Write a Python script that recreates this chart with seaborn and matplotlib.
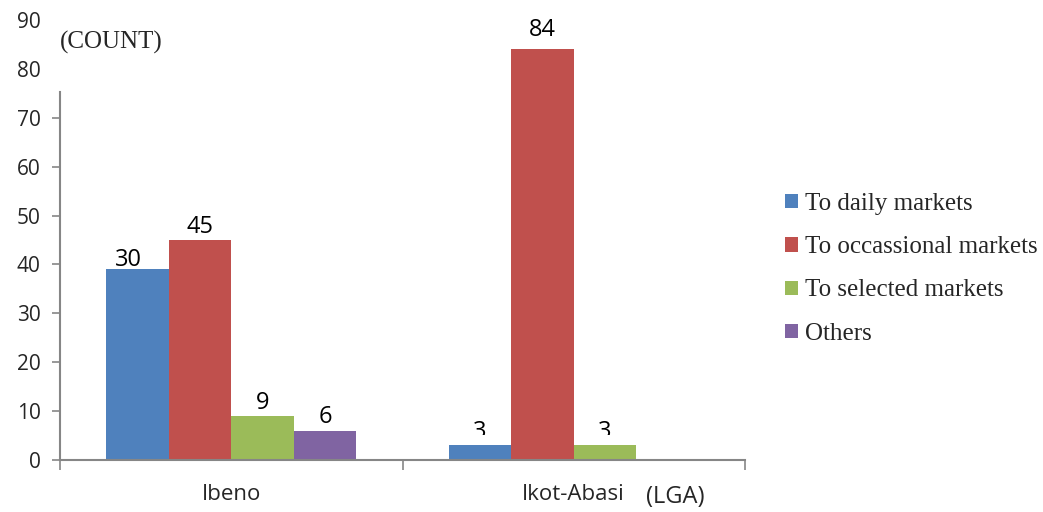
import matplotlib
matplotlib.use("Agg")
import matplotlib.pyplot as plt
import seaborn as sns
import pandas as pd
from matplotlib.patches import Patch, Rectangle

# ---- data ----
lgas = ["Ibeno", "Ikot-Abasi"]
series = ["To daily markets", "To occassional markets", "To selected markets", "Others"]
daily = [39, 3]
occasional = [45, 84]
selected = [9, 3]
others = [6, 0]
label_daily = ["30", "3"]
label_occasional = ["45", "84"]
label_selected = ["9", "3"]
label_others = ["6", ""]
yticks_marked = [0, 10, 20, 30, 40, 50, 60, 70]
yticks_unmarked = [80, 90]
colors = ["#4F81BD", "#C0504D", "#9BBB59", "#8064A2"]

values = [daily, occasional, selected, others]
labels = [label_daily, label_occasional, label_selected, label_others]

rows = []
for s, vals in zip(series, values):
    for lga, v in zip(lgas, vals):
        rows.append({"LGA": lga, "Series": s, "Count": v})
df = pd.DataFrame(rows)

sns.set_theme(style="white")
fig = plt.figure(figsize=(10.43, 5.12), dpi=100)
ax = fig.add_axes([60 / 1043, 1 - 460 / 512, (745 - 60) / 1043, 440 / 512])

sns.barplot(data=df, x="LGA", y="Count", hue="Series", order=lgas, hue_order=series,
            palette=colors, width=0.73, gap=0, dodge=True, saturation=1,
            edgecolor="none", linewidth=0, ax=ax, legend=False)

ax.set_ylim(0, 90)
ax.set_xlim(-0.5, 1.5)
ax.set_yticks(yticks_marked)
ax.set_yticklabels([str(t) for t in yticks_marked], family="Open Sans", fontsize=15)
ax.set_yticks(yticks_unmarked, minor=True)
ax.set_yticklabels([str(t) for t in yticks_unmarked], minor=True, family="Open Sans", fontsize=15)
ax.tick_params(axis="y", which="major", left=True, length=6, width=1.2, color="#868686", pad=8)
ax.tick_params(axis="y", which="minor", left=True, length=0, pad=14)

ax.set_xticks([0, 1])
ax.set_xticklabels(lgas, family="Open Sans", fontsize=16)
ax.set_xticks([-0.5, 0.5, 1.5], minor=True)
ax.tick_params(axis="x", which="major", length=0, pad=17)
ax.tick_params(axis="x", which="minor", bottom=True, length=7, width=1.2, color="#868686")
ax.set_xlabel("")
ax.set_ylabel("")

for side in ["top", "right"]:
    ax.spines[side].set_visible(False)
for side in ["left", "bottom"]:
    ax.spines[side].set_color("#868686")
    ax.spines[side].set_linewidth(1.5)
ax.spines["left"].set_bounds(0, 75.3)

# data labels
for cont, labs in zip(ax.containers, labels):
    for bar, lab in zip(cont, labs):
        if not lab:
            continue
        cx = bar.get_x() + bar.get_width() / 2
        top = bar.get_height()
        t = ax.text(cx, top + 0.3, lab, ha="center", va="bottom",
                    family="Open Sans", fontsize=17, color="black")
        if lab == "3":
            clip = Rectangle((cx - 1, 5.1), 2, 10, transform=ax.transData)
            t.set_clip_on(True)
            t.set_clip_path(clip)
        if top == 84:
            t.set_y(top + 1.5)
        if lab == "30":
            t.set_x(cx - 0.025)
            t.set_y(top - 0.6)

ax.text(60 / 1043, 1 - 42 / 512, "(COUNT)", transform=fig.transFigure,
        family="Liberation Serif", fontsize=18, ha="left", va="center")
ax.text(675 / 1043, 1 - 497 / 512, "(LGA)", transform=fig.transFigure,
        family="Open Sans", fontsize=17, ha="center", va="center")

handles = [Patch(facecolor=c, edgecolor="none") for c in colors]
fig.legend(handles, series, loc="upper left", bbox_to_anchor=(785 / 1043, 1 - 193 / 512),
           frameon=False, prop={"family": "Liberation Serif", "size": 18},
           handlelength=0.5, handleheight=0.5, handletextpad=0.3, labelspacing=0.85,
           borderaxespad=0, borderpad=0)

fig.savefig("out.png", dpi=100)
